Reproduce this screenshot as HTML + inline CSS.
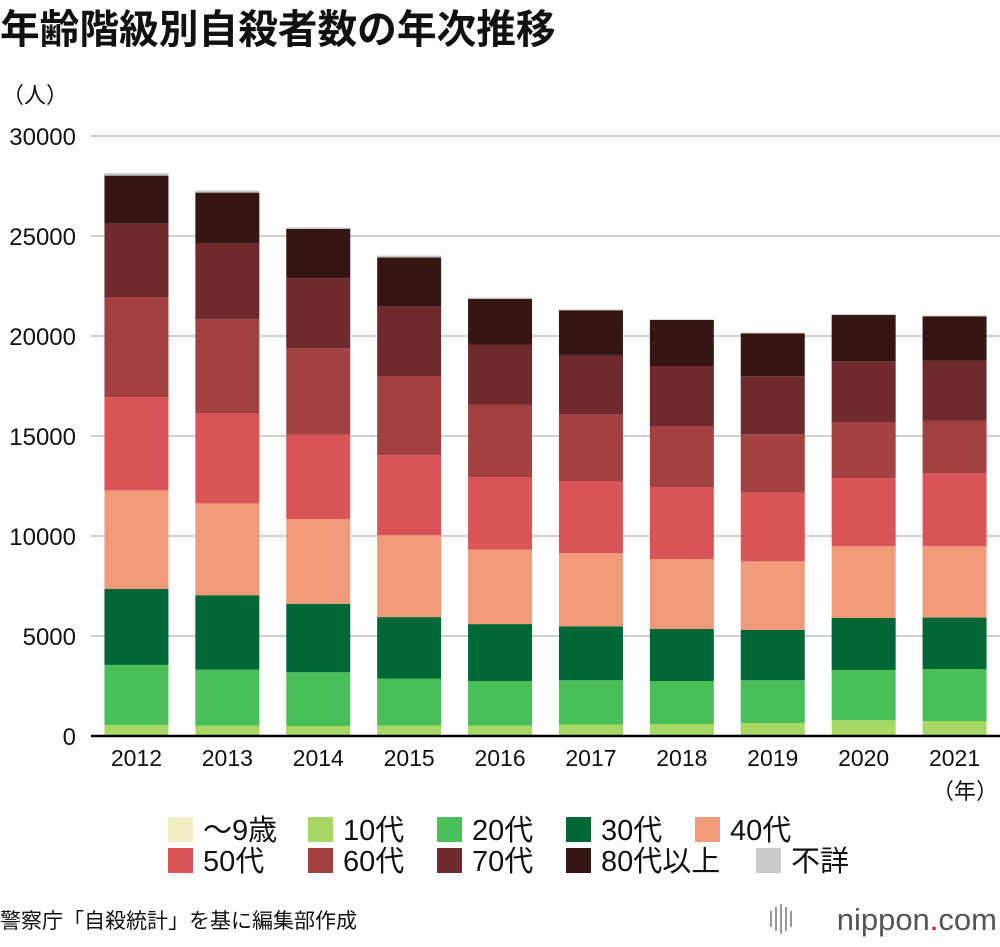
<!DOCTYPE html>
<html><head><meta charset="utf-8"><style>
body{margin:0;background:#fff;width:1000px;height:942px;overflow:hidden;font-family:"Liberation Sans","Noto Sans CJK JP",sans-serif}
svg text{font-family:"Liberation Sans","Noto Sans CJK JP",sans-serif}
</style></head><body>
<svg id="chart" width="1000" height="942" viewBox="0 0 1000 942" xmlns="http://www.w3.org/2000/svg">
<text x="0" y="43" font-size="39.7" font-weight="bold" fill="#111">年齢階級別自殺者数の年次推移</text>
<text x="2" y="103" font-size="22" fill="#111">（人）</text>
<g id="grid"></g>
<g id="ylabels"></g>
<g id="bars"></g>
<line x1="91" y1="736" x2="1000" y2="736" stroke="#000" stroke-width="2.5"/>
<g id="xlabels"></g>
<text x="998" y="799" font-size="22" fill="#111" text-anchor="end">（年）</text>
<g id="legend"></g>
<text x="0" y="928" font-size="21" fill="#111">警察庁「自殺統計」を基に編集部作成</text>
<g>
<g fill="#999"><rect x="770" y="911" width="2" height="16"/><rect x="775" y="907" width="2" height="24"/><rect x="780" y="904" width="2" height="30"/><rect x="785" y="907" width="2" height="24"/><rect x="790" y="911" width="2" height="16"/></g>
<text x="997" y="930" font-size="31" fill="#555" text-anchor="end">nippon<tspan fill="#d6001c">.</tspan>com</text>
</g>
</svg>
<script>
const years = ["2012","2013","2014","2015","2016","2017","2018","2019","2020","2021"];
const seriesNames = ["～9歳","10代","20代","30代","40代","50代","60代","70代","80代以上","不詳"];
const under10 = [10,10,10,10,10,10,10,10,10,10];
const age10s = [545,510,490,510,510,560,590,640,775,740];
const age20s = [3000,2795,2685,2350,2220,2215,2150,2135,2515,2600];
const age30s = [3795,3725,3425,3075,2855,2700,2600,2515,2600,2570];
const age40s = [4930,4590,4240,4095,3720,3665,3500,3435,3585,3565];
const age50s = [4665,4500,4205,4000,3630,3600,3600,3435,3415,3650];
const age60s = [5000,4705,4335,3960,3630,3335,3050,2915,2800,2620];
const age70s = [3665,3815,3500,3465,3000,2935,3000,2900,3035,3015];
const age80plus = [2410,2520,2460,2465,2280,2265,2300,2150,2315,2215];
const unknown = [130,110,80,90,75,40,35,35,35,35];
const yTicks = [0,5000,10000,15000,20000,25000,30000];
const series = [under10,age10s,age20s,age30s,age40s,age50s,age60s,age70s,age80plus,unknown];
const colors = ["#f2efc6","#a8d864","#48bf58","#006837","#f09a7a","#d95557","#a34041","#6e2a2c","#361615","#c9c9c9"];
const NS="http://www.w3.org/2000/svg";
const plotL=91, plotR=1000, y0=736, pxPer=600/30000;
const band=(plotR-plotL)/years.length, barW=64;
const yScale=v=>y0-v*pxPer;
const xCenter=i=>plotL+band*(i+0.5);
function mk(tag,attrs,parent){const e=document.createElementNS(NS,tag);for(const k in attrs)e.setAttribute(k,attrs[k]);parent.appendChild(e);return e;}
const grid=document.getElementById('grid'),yl=document.getElementById('ylabels');
yTicks.forEach(t=>{
  if(t>0){const l=mk('line',{x1:plotL,x2:plotR,y1:yScale(t),y2:yScale(t),stroke:'#cfcfcf','stroke-width':2},grid);
  
  }
  const tx=mk('text',{x:76,y:yScale(t)+9,'font-size':24,'text-anchor':'end',fill:'#111'},yl);
  tx.textContent=t;
  
  
});
const bars=document.getElementById('bars'),xl=document.getElementById('xlabels');
years.forEach((y,i)=>{
  let cum=0;
  series.forEach((s,j)=>{
    const v=s[i];
    const r=mk('rect',{x:xCenter(i)-barW/2,y:yScale(cum+v),width:barW,height:v*pxPer,fill:colors[j]},bars);
    
    
    cum+=v;
  });
  const t=mk('text',{x:xCenter(i),y:766,'font-size':23,'text-anchor':'middle',fill:'#111'},xl);
  t.textContent=y;
  
  
});
const lg=document.getElementById('legend');
const legX=[168,308,437,566,695,168,308,437,566,756];
const legY=[817,817,817,817,817,848,848,848,848,848];
seriesNames.forEach((n,j)=>{
  const g=mk('g',{},lg);
  
  
  mk('rect',{x:legX[j],y:legY[j],width:25,height:25,fill:colors[j]},g);
  const t=mk('text',{x:legX[j]+35,y:legY[j]+23,'font-size':29,fill:'#111'},g);
  t.textContent=n;
});
</script>
</body></html>
